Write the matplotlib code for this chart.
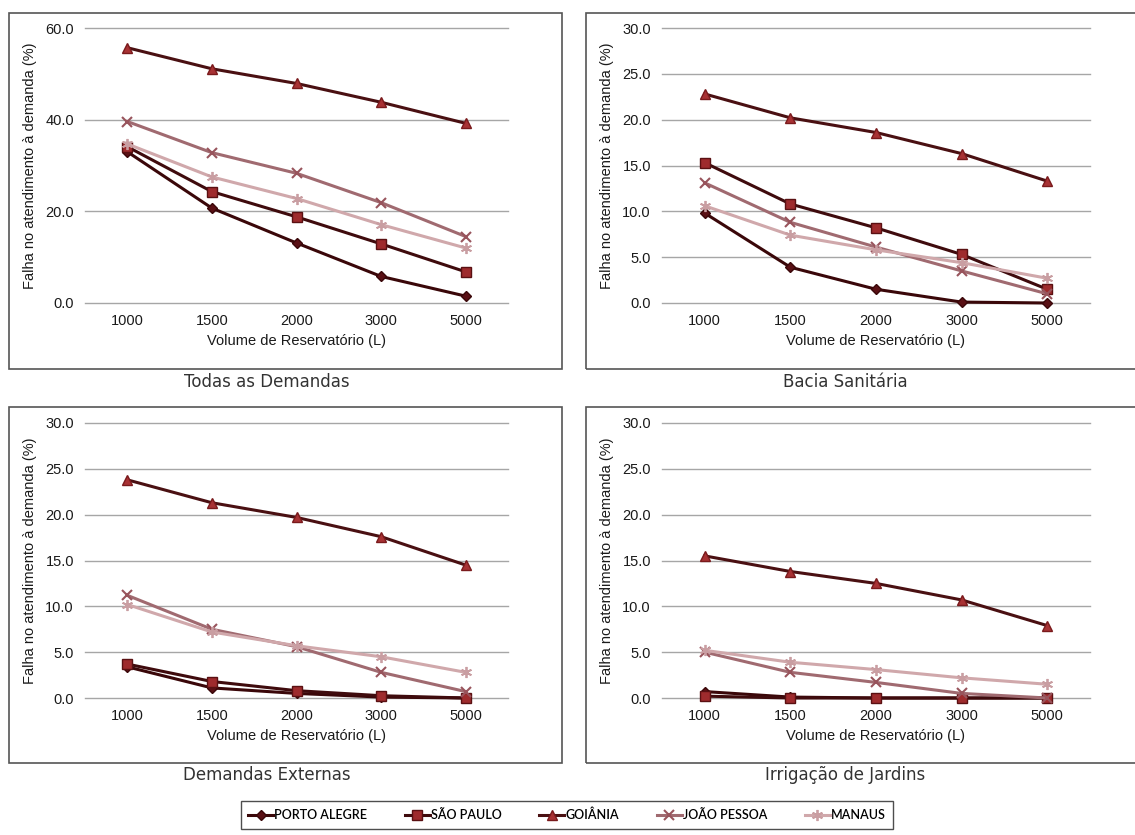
import matplotlib.pyplot as plt
from matplotlib.patches import Rectangle

volumes = ['1000', '1500', '2000', '3000', '5000']
cities = ['PORTO ALEGRE', 'SÃO PAULO', 'GOIÂNIA', 'JOÃO PESSOA', 'MANAUS']

# falha no atendimento (%) por cidade, na ordem de "cities"
todas = [
    [33.0, 20.7, 13.1, 5.8, 1.5],
    [34.1, 24.3, 18.8, 12.9, 6.8],
    [55.7, 51.1, 47.9, 43.8, 39.2],
    [39.6, 32.8, 28.3, 21.9, 14.5],
    [34.7, 27.5, 22.8, 17.1, 12.0],
]
bacia = [
    [9.8, 3.9, 1.5, 0.1, 0.0],
    [15.3, 10.8, 8.2, 5.3, 1.5],
    [22.8, 20.2, 18.6, 16.3, 13.3],
    [13.1, 8.8, 6.1, 3.5, 1.0],
    [10.6, 7.4, 5.8, 4.4, 2.7],
]
externas = [
    [3.4, 1.1, 0.5, 0.1, 0.0],
    [3.7, 1.8, 0.8, 0.25, 0.0],
    [23.8, 21.3, 19.7, 17.6, 14.5],
    [11.2, 7.5, 5.6, 2.8, 0.7],
    [10.2, 7.2, 5.7, 4.5, 2.8],
]
irrigacao = [
    [0.7, 0.1, 0.0, 0.0, 0.0],
    [0.2, 0.0, 0.0, 0.0, 0.0],
    [15.5, 13.8, 12.5, 10.7, 7.9],
    [5.0, 2.8, 1.7, 0.5, 0.0],
    [5.2, 3.9, 3.1, 2.2, 1.5],
]

panels = [
    ('Todas as Demandas', todas, 60, 20),
    ('Bacia Sanitária', bacia, 30, 5),
    ('Demandas Externas', externas, 30, 5),
    ('Irrigação de Jardins', irrigacao, 30, 5),
]

styles = [
    dict(color='#3a0709', marker='D', ms=5, mfc='#5a1015', mec='#3a0709'),
    dict(color='#3f0b0d', marker='s', ms=7.5, mfc='#9e2b2d', mec='#5a1012'),
    dict(color='#4a1012', marker='^', ms=7.5, mfc='#a83234', mec='#7a1a1c'),
    dict(color='#a06a70', marker='x', ms=7, mew=1.5, mec='#98545c'),
    dict(color='#d0a8ab', marker=(6, 2, 0), ms=8, mew=1.3, mec='#c99ea2'),
]

W, H = 1135, 835
fig = plt.figure(figsize=(W / 100, H / 100), dpi=100)

# posições em pixels: (x0, x1, ytopo, ybase) da área de plotagem
areas = [(85, 508, 28, 303), (662, 1090, 28, 303),
         (85, 508, 423, 698), (662, 1090, 423, 698)]
boxes = [(9, 13, 562, 369), (586, 13, 1140, 369),
         (9, 407, 562, 763), (586, 407, 1140, 763)]
title_pos = [(267, 382), (845, 382), (267, 775), (845, 775)]

for (title, data, ymax, step), (x0, x1, yt, yb), (bx0, by0, bx1, by1), (tx, ty) in zip(
        panels, areas, boxes, title_pos):
    fig.patches.append(Rectangle((bx0 / W, 1 - by1 / H), (bx1 - bx0) / W, (by1 - by0) / H,
                                 transform=fig.transFigure, fill=False,
                                 edgecolor='#555555', linewidth=1.2))
    ax = fig.add_axes([x0 / W, 1 - yb / H, (x1 - x0) / W, (yb - yt) / H])
    x = range(len(volumes))
    for name, vals, st in zip(cities, data, styles):
        ax.plot(x, vals, lw=2.2, label=name, zorder=3, clip_on=False, **st)
    ax.set_xlim(-0.5, len(volumes) - 0.5)
    ax.set_ylim(0, ymax)
    ax.set_yticks(range(0, ymax + 1, step))
    ax.set_yticklabels([f'{v:.1f}' for v in range(0, ymax + 1, step)])
    ax.set_xticks(list(x))
    ax.set_xticklabels(volumes)
    ax.grid(axis='y', color='#a6a6a6', linewidth=1)
    for gl in ax.get_ygridlines():
        gl.set_clip_on(False)
    ax.set_axisbelow(True)
    for s in ax.spines.values():
        s.set_visible(False)
    ax.tick_params(length=0, labelsize=10.5, colors='#1a1a1a', pad=8)
    ax.set_xlabel('Volume de Reservatório (L)', fontsize=10.5, color='#1a1a1a', labelpad=4)
    ax.set_ylabel('Falha no atendimento à demanda (%)', fontsize=10.5, color='#1a1a1a', labelpad=6)
    for lab in ax.get_xticklabels() + ax.get_yticklabels():
        lab.set_family('Liberation Sans')
    ax.xaxis.label.set_family('Liberation Sans')
    ax.yaxis.label.set_family('Liberation Sans')
    fig.text(tx / W, 1 - ty / H, title, ha='center', va='center', fontsize=12,
             color='#333333', family='DejaVu Sans')

handles, labels = ax.get_legend_handles_labels()
leg = fig.legend(handles, labels, loc='center', bbox_to_anchor=(567 / W, 1 - 815 / H),
                 ncol=5, frameon=True, fancybox=False, edgecolor='#222222',
                 handlelength=2.0, handletextpad=0.1, columnspacing=3.0,
                 prop={'family': 'Lato', 'size': 9, 'weight': 'semibold'}, borderpad=0.6)
leg.get_frame().set_linewidth(1.0)

fig.savefig('out.png', dpi=100, facecolor='white')
